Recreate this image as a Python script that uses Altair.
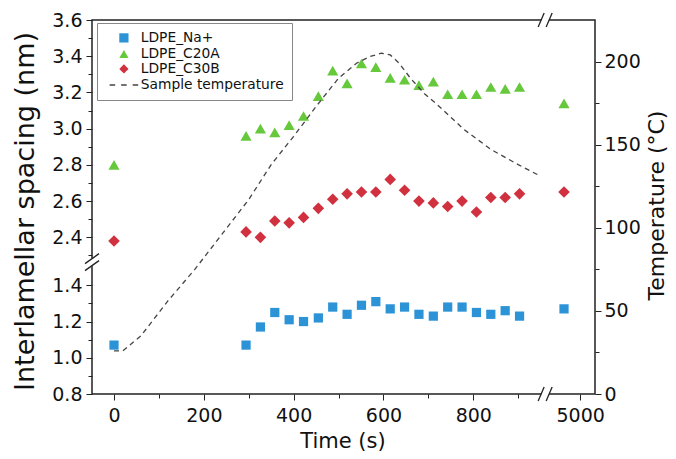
import altair as alt
import pandas as pd

# ---------------- data ----------------
times = [0, 294, 326, 358, 390, 422, 455, 487, 519, 551, 583, 615, 647, 679,
         711, 743, 775, 807, 839, 871, 903, 4964]
na_plus = [1.07, 1.07, 1.17, 1.25, 1.21, 1.20, 1.22, 1.28, 1.24, 1.29, 1.31,
           1.27, 1.28, 1.24, 1.23, 1.28, 1.28, 1.25, 1.24, 1.26, 1.23, 1.27]
c20a = [2.80, 2.96, 3.00, 2.98, 3.02, 3.07, 3.18, 3.32, 3.25, 3.36, 3.34,
        3.28, 3.27, 3.24, 3.26, 3.19, 3.19, 3.19, 3.23, 3.22, 3.23, 3.14]
c30b = [2.38, 2.43, 2.40, 2.49, 2.48, 2.51, 2.56, 2.61, 2.64, 2.65, 2.65,
        2.72, 2.66, 2.60, 2.59, 2.57, 2.60, 2.54, 2.62, 2.62, 2.64, 2.65]
temp_times = [0, 20, 60, 120, 180, 240, 300, 350, 400, 450, 500, 540, 570,
              595, 615, 635, 660, 690, 720, 780, 840, 900, 950]
temp_values = [26, 26, 35, 56, 75, 96, 117, 138, 155, 173, 190, 199, 203,
               205, 204, 199, 190, 181, 174, 159, 147, 138, 131]
series = ["LDPE_Na+", "LDPE_C20A", "LDPE_C30B", "Sample temperature"]
x_ticks = [0, 100, 200, 300, 400, 500, 600, 700, 800, 900]
x_far_tick = 5000
y_upper_ticks = [2.3, 2.4, 2.5, 2.6, 2.7, 2.8, 2.9, 3.0, 3.1, 3.2, 3.3, 3.4, 3.5, 3.6]
y_lower_ticks = [0.8, 0.9, 1.0, 1.1, 1.2, 1.3, 1.4]
t_ticks = [0, 25, 50, 75, 100, 125, 150, 175, 200]

# ---------------- broken-axis settings ----------------
X_SHIFT = 3962          # times beyond the break are shifted left
Y_SHIFT = 0.735         # low spacings are shifted up
X_DOMAIN = [-49, 1071]
Y_DOMAIN = [0.8 + Y_SHIFT, 3.6]
T_DOMAIN = [0, 225]
W, H = 503, 374

colors = ["#2b93d6", "#66c93c", "#d1313f", "#444444"]
# dashed-line legend symbol drawn as three thin filled bars
line_symbol = ("M-3.1,-0.16H-1.9V0.16H-3.1Z"
               "M-0.6,-0.16H0.6V0.16H-0.6Z"
               "M1.9,-0.16H3.1V0.16H1.9Z")
shapes = ["square", "triangle-up", "diamond", line_symbol]
sizes = {"LDPE_Na+": 85, "LDPE_C20A": 125, "LDPE_C30B": 135}
FONT = "DejaVu Sans"

rows = []
for name, vals in zip(series[:3], [na_plus, c20a, c30b]):
    for t, v in zip(times, vals):
        rows.append({"series": name, "time": t, "spacing": v})
pts = pd.DataFrame(rows)
temp = pd.DataFrame({"time": temp_times, "temperature": temp_values})

# break decorations (in data units, derived from break positions)
ux = (X_DOMAIN[1] - X_DOMAIN[0]) / W
uy = (Y_DOMAIN[1] - Y_DOMAIN[0]) / H
x_break = 960
y_break = 2.263
segs = []
segs.append(dict(xpos=X_DOMAIN[0], xpos2=X_DOMAIN[0], ypos=y_break - 4 * uy, ypos2=y_break + 4 * uy, col="white", w=5))
for off in (-3.5, 3.5):
    yc = y_break + off * uy
    segs.append(dict(xpos=X_DOMAIN[0] - 7 * ux, xpos2=X_DOMAIN[0] + 7 * ux, ypos=yc - 5 * uy, ypos2=yc + 5 * uy, col="#222", w=1.3))
for yb in (Y_DOMAIN[0], Y_DOMAIN[1]):
    segs.append(dict(xpos=x_break - 4 * ux, xpos2=x_break + 4 * ux, ypos=yb, ypos2=yb, col="white", w=5))
    for off in (-4, 4):
        xc = x_break + off * ux
        segs.append(dict(xpos=xc - 3 * ux, xpos2=xc + 3 * ux, ypos=yb - 7 * uy, ypos2=yb + 7 * uy, col="#222", w=1.3))
decor = pd.DataFrame(segs)

x_values = x_ticks + [x_far_tick - X_SHIFT]
x_axis = alt.Axis(
    values=x_values, title="Time (s)",
    labelExpr=f"datum.value > 1000 ? '{x_far_tick}' : (datum.value % 200 === 0 ? format(datum.value, 'd') : '')",
    tickSize={"condition": {"test": "datum.value % 200 === 0 || datum.value > 1000", "value": 6}, "value": 4},
    labelPadding=6, titleX=W / 2 - 1, titleY=47, titleBaseline="middle",
    titleFontSize=21,
)
xenc = alt.X("xpos:Q", scale=alt.Scale(domain=X_DOMAIN, nice=False, zero=False), axis=x_axis)

orig = f"(datum.value < 2.25 ? datum.value - {Y_SHIFT} : datum.value)"
y_values = y_upper_ticks + [round(v + Y_SHIFT, 4) for v in y_lower_ticks]
y_axis = alt.Axis(
    values=y_values, title="Interlamellar spacing (nm)",
    labelExpr=f"(round({orig} * 10) % 2 === 0) ? format({orig}, '.1f') : ''",
    tickSize={"condition": {"test": f"round({orig} * 10) % 2 === 0", "value": 6}, "value": 4},
    labelPadding=4, titleX=-67, titleY=191, titleAngle=270,
    titleBaseline="middle", titleAlign="center", titleFontSize=27,
)
yenc = alt.Y("ypos:Q", scale=alt.Scale(domain=Y_DOMAIN, nice=False, zero=False), axis=y_axis)

t_axis = alt.Axis(
    values=t_ticks, title="Temperature (°C)", orient="right",
    labelExpr="datum.value % 50 === 0 ? datum.label : ''",
    tickSize={"condition": {"test": "datum.value % 50 === 0", "value": 6}, "value": 4},
    labelPadding=3, titleX=61, titleY=185, titleAngle=270,
    titleBaseline="middle", titleAlign="center", titleFontSize=22,
)

legend = alt.Legend(
    title=None, orient="none", legendX=5, legendY=3,
    fillColor="white", strokeColor="#888", padding=8,
    symbolSize=85, symbolOffset=12, labelOffset=10, symbolOpacity=1,
    labelFont=FONT, labelFontSize=13.8, labelColor="#111", rowPadding=0,
)
color_enc = alt.Color("series:N", scale=alt.Scale(domain=series, range=colors), legend=legend)
shape_enc = alt.Shape("series:N", scale=alt.Scale(domain=series, range=shapes), legend=legend)

base = alt.Chart(pts).transform_calculate(
    xpos=f"datum.time > 2000 ? datum.time - {X_SHIFT} : datum.time",
    ypos=f"datum.spacing < 2 ? datum.spacing + {Y_SHIFT} : datum.spacing",
)
point_layers = [
    base.transform_filter(alt.datum.series == name)
    .mark_point(filled=True, opacity=1, size=sizes[name])
    .encode(x=xenc, y=yenc, color=color_enc, shape=shape_enc)
    for name in series[:3]
]

decor_layer = alt.Chart(decor).mark_rule().encode(
    x=xenc, x2="xpos2:Q", y=yenc, y2="ypos2:Q",
    color=alt.Color("col:N", scale=None, legend=None),
    strokeWidth=alt.StrokeWidth("w:Q", scale=None, legend=None),
)

left_part = alt.layer(*point_layers, decor_layer)

temp_line = alt.Chart(temp).transform_calculate(
    xpos="datum.time"
).mark_line(color="#444444", strokeDash=[5, 4], strokeWidth=1.3).encode(
    x=xenc,
    y=alt.Y("temperature:Q", scale=alt.Scale(domain=T_DOMAIN, nice=False), axis=t_axis),
)

chart = alt.layer(left_part, temp_line).resolve_scale(
    y="independent"
).properties(
    width=W, height=H,
    padding={"left": 84, "top": 12, "right": 73, "bottom": 57},
    autosize=alt.AutoSizeParams(type="none"),
).configure_view(
    stroke="#222", strokeWidth=1.5
).configure_axis(
    domain=False, grid=False, labelFont=FONT, titleFont=FONT,
    labelFontSize=19, titleFontWeight="normal",
    labelColor="#111", titleColor="#111", tickColor="#222", tickWidth=1,
)

chart.save("out.html", embed_options={"renderer": "svg", "actions": False})
